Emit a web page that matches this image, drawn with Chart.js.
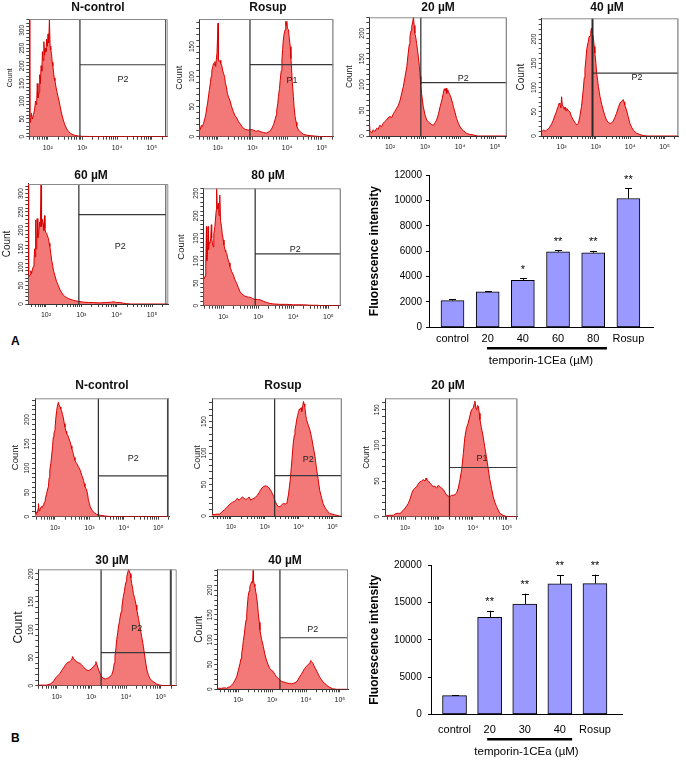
<!DOCTYPE html>
<html><head><meta charset="utf-8">
<script src="https://cdn.jsdelivr.net/npm/chart.js@4.4.1/dist/chart.umd.min.js"></script>
<style>
html,body{margin:0;padding:0;background:#fff}
#wrap{position:relative;width:686px;height:761px;overflow:hidden;background:#fff}
#wrap canvas{position:absolute}
.pl{position:absolute;font:bold 12px "Liberation Sans",Arial,sans-serif;color:#000}
</style></head><body>
<div id="wrap">
<div class="pl" style="left:11px;top:334px">A</div>
<div class="pl" style="left:11px;top:731px">B</div>
</div>
<script>
// ---------- DATA: histogram readings as [log10(fluorescence), count] ----------
const histA_Ncontrol = [[1.47,332],[1.485,55],[1.50,40],[1.53,66],[1.56,50],[1.59,62],[1.62,75],[1.65,100],[1.68,90],[1.70,150],[1.72,110],[1.75,125],[1.77,175],[1.79,150],[1.81,200],[1.83,185],[1.85,240],[1.87,215],[1.89,268],[1.91,230],[1.93,250],[1.95,240],[1.97,275],[1.99,255],[2.01,290],[2.03,265],[2.05,332],[2.07,255],[2.09,245],[2.11,235],[2.13,210],[2.15,200],[2.17,180],[2.19,165],[2.21,158],[2.24,140],[2.27,125],[2.30,112],[2.33,100],[2.36,85],[2.39,70],[2.42,58],[2.45,47],[2.48,38],[2.51,30],[2.55,22],[2.60,15],[2.65,10],[2.70,7],[2.78,4],[2.88,2],[3.0,1],[3.3,0.5],[5.46,0]];
const histA_Rosup = [[1.47,20],[1.50,12],[1.53,19],[1.56,17],[1.59,22],[1.63,30],[1.66,38],[1.69,50],[1.71,56],[1.74,70],[1.76,78],[1.79,90],[1.81,100],[1.83,110],[1.86,117],[1.88,122],[1.90,120],[1.92,125],[1.94,117],[1.96,128],[1.98,140],[2.01,189],[2.02,128],[2.04,125],[2.07,127],[2.09,122],[2.12,118],[2.14,111],[2.17,105],[2.20,100],[2.22,90],[2.25,83],[2.28,72],[2.31,66],[2.35,61],[2.40,50],[2.45,42],[2.50,35],[2.55,31],[2.60,25],[2.64,22],[2.70,17],[2.74,14],[2.80,12],[2.88,11],[2.95,12],[3.03,11],[3.10,9],[3.17,10],[3.25,8],[3.32,7],[3.40,6],[3.46,8],[3.52,10],[3.56,14],[3.61,20],[3.65,28],[3.68,35],[3.70,44],[3.73,55],[3.75,67],[3.78,80],[3.80,94],[3.83,110],[3.85,128],[3.87,145],[3.89,161],[3.91,170],[3.94,178],[3.96,192],[3.98,185],[3.99,192],[4.01,180],[4.04,178],[4.06,165],[4.09,150],[4.11,130],[4.13,111],[4.15,90],[4.18,67],[4.20,50],[4.23,33],[4.26,24],[4.28,17],[4.33,11],[4.38,8],[4.47,4],[4.6,2],[4.8,1],[5.0,0],[5.33,0]];
const histA_20 = [[1.41,31],[1.43,10],[1.48,6],[1.52,12],[1.57,9],[1.62,15],[1.66,13],[1.71,21],[1.76,18],[1.81,25],[1.85,28],[1.90,31],[1.94,35],[2.0,38],[2.05,36],[2.10,44],[2.14,48],[2.19,54],[2.24,60],[2.29,70],[2.33,82],[2.38,96],[2.43,115],[2.48,135],[2.52,161],[2.55,178],[2.57,193],[2.60,205],[2.62,213],[2.65,222],[2.67,232],[2.69,215],[2.71,200],[2.74,190],[2.76,180],[2.79,165],[2.81,154],[2.84,135],[2.86,116],[2.88,100],[2.90,83],[2.93,68],[2.95,57],[3.0,41],[3.05,31],[3.10,27],[3.14,25],[3.19,22],[3.24,21],[3.28,25],[3.33,31],[3.38,42],[3.43,57],[3.48,70],[3.52,83],[3.55,92],[3.57,88],[3.60,93],[3.62,83],[3.65,90],[3.67,86],[3.71,80],[3.74,75],[3.76,70],[3.79,63],[3.81,57],[3.86,45],[3.90,34],[3.95,25],[4.0,18],[4.05,13],[4.10,10],[4.19,5],[4.28,3],[4.38,2],[4.5,0],[5.33,0]];
const histA_40 = [[1.42,9],[1.47,12],[1.52,10],[1.56,12],[1.61,14],[1.66,19],[1.71,25],[1.76,33],[1.80,42],[1.85,50],[1.88,58],[1.90,61],[1.93,68],[1.95,66],[1.98,58],[2.0,81],[2.02,64],[2.05,61],[2.08,55],[2.10,60],[2.13,52],[2.15,57],[2.20,52],[2.24,50],[2.29,40],[2.34,33],[2.39,28],[2.44,23],[2.49,26],[2.53,40],[2.58,61],[2.63,95],[2.66,120],[2.68,137],[2.71,160],[2.73,178],[2.76,190],[2.78,195],[2.80,205],[2.83,206],[2.85,215],[2.87,223],[2.89,212],[2.92,206],[2.95,185],[2.97,171],[3.0,150],[3.02,130],[3.05,115],[3.07,102],[3.10,90],[3.12,81],[3.17,65],[3.21,54],[3.26,42],[3.31,33],[3.36,28],[3.41,26],[3.45,27],[3.50,30],[3.55,38],[3.60,47],[3.65,58],[3.70,68],[3.75,72],[3.80,75],[3.82,70],[3.84,64],[3.89,54],[3.94,40],[3.99,26],[4.04,18],[4.09,12],[4.18,6],[4.28,3],[4.38,1],[4.5,0],[5.40,0]];
const histA_60 = [[1.50,326],[1.51,80],[1.53,75],[1.55,79],[1.57,90],[1.59,83],[1.62,95],[1.64,101],[1.66,115],[1.68,150],[1.69,128],[1.71,228],[1.72,150],[1.74,165],[1.75,232],[1.77,180],[1.78,192],[1.80,200],[1.82,223],[1.84,210],[1.86,323],[1.87,215],[1.88,210],[1.90,230],[1.92,219],[1.94,200],[1.96,240],[1.97,205],[1.99,195],[2.02,192],[2.04,185],[2.07,178],[2.09,165],[2.11,156],[2.14,135],[2.16,119],[2.19,105],[2.21,92],[2.25,78],[2.30,61],[2.35,50],[2.40,38],[2.45,30],[2.49,24],[2.54,20],[2.58,18],[2.63,15],[2.68,13],[2.75,11],[2.82,9],[2.93,7],[3.06,5],[3.20,4],[3.34,4],[3.50,3],[3.72,4],[3.85,5],[3.91,6],[4.0,4],[4.09,4],[4.2,2],[4.28,1],[4.4,0],[5.46,0]];
const histA_80 = [[1.43,72],[1.45,60],[1.48,65],[1.50,90],[1.52,176],[1.53,100],[1.55,120],[1.57,176],[1.58,125],[1.60,140],[1.62,139],[1.64,150],[1.66,180],[1.67,150],[1.69,140],[1.71,131],[1.73,160],[1.76,176],[1.78,195],[1.80,213],[1.81,261],[1.83,215],[1.86,228],[1.88,200],[1.90,246],[1.92,190],[1.95,176],[1.97,160],[2.0,146],[2.02,135],[2.05,124],[2.07,120],[2.10,116],[2.12,108],[2.14,102],[2.17,95],[2.19,87],[2.24,76],[2.29,68],[2.33,58],[2.38,50],[2.43,40],[2.48,31],[2.52,27],[2.57,24],[2.62,21],[2.67,20],[2.72,19],[2.76,19],[2.83,16],[2.90,14],[2.97,14],[3.05,13],[3.14,10],[3.24,7],[3.33,5],[3.43,4],[3.6,3],[3.81,3],[4.0,2],[4.29,2],[4.5,1],[4.67,1],[4.8,0],[5.35,0]];
const histB_Ncontrol = [[1.42,7],[1.45,5],[1.47,10],[1.49,8],[1.51,17],[1.52,27],[1.54,12],[1.56,14],[1.58,18],[1.61,21],[1.63,19],[1.66,24],[1.68,28],[1.71,31],[1.73,40],[1.76,48],[1.78,55],[1.81,62],[1.83,80],[1.85,96],[1.88,110],[1.90,123],[1.93,145],[1.95,164],[1.97,172],[2.0,178],[2.02,200],[2.05,219],[2.07,228],[2.10,236],[2.12,230],[2.15,226],[2.17,222],[2.19,219],[2.22,210],[2.24,205],[2.27,192],[2.29,185],[2.32,176],[2.34,171],[2.37,168],[2.39,164],[2.42,158],[2.44,154],[2.47,146],[2.49,140],[2.51,135],[2.53,130],[2.56,122],[2.58,116],[2.61,112],[2.63,110],[2.68,103],[2.73,96],[2.78,85],[2.83,75],[2.85,68],[2.87,62],[2.90,58],[2.92,55],[2.95,45],[2.97,34],[3.0,27],[3.02,21],[3.07,14],[3.11,10],[3.16,7],[3.21,5],[3.31,3],[3.50,1],[3.7,0],[5.31,0]];
const histB_Rosup = [[1.44,3],[1.5,2],[1.58,3],[1.66,3],[1.71,5],[1.76,8],[1.81,10],[1.85,12],[1.90,15],[1.95,18],[2.0,20],[2.05,22],[2.10,23],[2.15,26],[2.19,28],[2.24,25],[2.29,28],[2.34,30],[2.39,28],[2.44,26],[2.49,28],[2.54,30],[2.58,25],[2.63,27],[2.68,28],[2.73,30],[2.78,33],[2.83,37],[2.87,41],[2.92,45],[2.97,47],[3.02,48],[3.07,47],[3.12,45],[3.17,41],[3.22,36],[3.26,31],[3.29,26],[3.31,23],[3.36,17],[3.41,15],[3.46,15],[3.50,18],[3.55,20],[3.60,19],[3.65,20],[3.70,35],[3.75,57],[3.80,89],[3.84,116],[3.87,128],[3.89,137],[3.92,145],[3.94,153],[3.97,160],[3.99,164],[4.02,170],[4.04,169],[4.07,172],[4.09,166],[4.12,175],[4.14,182],[4.16,178],[4.18,174],[4.21,160],[4.23,153],[4.28,145],[4.33,137],[4.38,125],[4.43,110],[4.48,95],[4.52,78],[4.57,60],[4.62,41],[4.67,30],[4.72,20],[4.77,14],[4.82,10],[4.91,4],[5.06,2],[5.2,0],[5.27,0]];
const histB_20 = [[1.41,1],[1.55,2],[1.66,2],[1.71,4],[1.80,5],[1.85,4],[1.90,7],[1.95,9],[2.0,12],[2.05,15],[2.10,19],[2.15,25],[2.20,33],[2.25,38],[2.29,40],[2.34,42],[2.39,46],[2.44,49],[2.49,50],[2.54,52],[2.59,50],[2.62,54],[2.64,52],[2.69,50],[2.74,47],[2.78,45],[2.83,42],[2.88,43],[2.93,40],[2.98,44],[3.03,42],[3.08,40],[3.13,38],[3.18,34],[3.23,30],[3.27,29],[3.32,28],[3.37,30],[3.42,30],[3.47,31],[3.52,33],[3.57,40],[3.62,52],[3.67,66],[3.72,89],[3.76,110],[3.81,124],[3.86,131],[3.91,141],[3.96,150],[4.01,152],[4.04,158],[4.06,162],[4.09,152],[4.11,150],[4.14,156],[4.16,155],[4.19,145],[4.21,136],[4.25,125],[4.30,113],[4.35,98],[4.40,84],[4.45,68],[4.50,52],[4.55,40],[4.60,28],[4.65,20],[4.70,14],[4.79,5],[4.89,2],[5.0,0],[5.31,0]];
const histB_30 = [[1.47,1],[1.6,1],[1.71,1],[1.81,3],[1.86,5],[1.90,7],[1.95,12],[2.0,16],[2.05,19],[2.10,22],[2.14,27],[2.19,31],[2.24,36],[2.29,40],[2.33,42],[2.38,43],[2.43,46],[2.46,52],[2.48,49],[2.53,45],[2.58,43],[2.62,41],[2.67,40],[2.72,37],[2.77,34],[2.82,30],[2.87,28],[2.91,27],[2.96,28],[3.01,31],[3.06,34],[3.11,38],[3.13,43],[3.15,40],[3.20,30],[3.25,22],[3.30,16],[3.35,13],[3.40,12],[3.44,13],[3.49,14],[3.54,16],[3.59,20],[3.63,28],[3.66,40],[3.68,52],[3.71,68],[3.73,82],[3.76,95],[3.78,105],[3.81,115],[3.83,123],[3.86,132],[3.88,141],[3.90,150],[3.92,159],[3.95,168],[3.97,177],[4.0,186],[4.02,195],[4.05,202],[4.07,208],[4.10,204],[4.12,200],[4.14,192],[4.16,183],[4.19,174],[4.21,165],[4.24,158],[4.26,153],[4.29,144],[4.31,135],[4.36,120],[4.40,105],[4.45,88],[4.50,70],[4.55,48],[4.60,28],[4.65,18],[4.69,13],[4.74,9],[4.79,7],[4.88,3],[4.98,1],[5.1,0],[5.46,0]];
const histB_40 = [[1.38,2],[1.5,2],[1.6,3],[1.66,2],[1.70,4],[1.75,5],[1.80,8],[1.85,12],[1.90,18],[1.95,25],[2.0,38],[2.05,52],[2.08,62],[2.10,72],[2.13,85],[2.15,99],[2.18,112],[2.20,126],[2.23,140],[2.25,153],[2.27,170],[2.29,187],[2.32,198],[2.34,207],[2.37,212],[2.39,217],[2.42,215],[2.44,240],[2.45,220],[2.47,212],[2.49,207],[2.52,195],[2.54,187],[2.57,170],[2.59,153],[2.62,135],[2.64,119],[2.69,100],[2.74,86],[2.78,72],[2.83,59],[2.88,50],[2.93,42],[2.98,38],[3.03,36],[3.08,30],[3.13,25],[3.18,22],[3.23,19],[3.28,16],[3.32,15],[3.37,14],[3.42,13],[3.47,12],[3.52,12],[3.57,11],[3.62,12],[3.67,13],[3.72,15],[3.76,19],[3.81,25],[3.86,30],[3.91,36],[3.96,42],[4.01,46],[4.06,50],[4.11,52],[4.14,58],[4.16,56],[4.19,54],[4.21,52],[4.25,45],[4.30,39],[4.35,32],[4.40,25],[4.45,20],[4.50,15],[4.55,12],[4.60,9],[4.65,6],[4.70,4],[4.79,1],[4.9,0],[5.24,0]];

// ---------- DATA: bar charts ----------
const barCatsA = ['control','20','40','60','80','Rosup'];
const barValsA = [2100, 2800, 3700, 5950, 5870, 10150];
const barErrA  = [100, 60, 150, 120, 150, 800];
const barSigA  = ['', '', '*', '**', '**', '**'];
const barTicksA = [0, 2000, 4000, 6000, 8000, 10000, 12000];

const barCatsB = ['control','20','30','40','Rosup'];
const barValsB = [2500, 13000, 14800, 17500, 17550];
const barErrB  = [100, 900, 1400, 1200, 1200];
const barSigB  = ['', '**', '**', '**', '**'];
const barTicksB = [0, 5000, 10000, 15000, 20000];

const axisTitleX = 'temporin-1CEa (µM)';
const axisTitleY = 'Fluorescence intensity';

// ---------- LAYOUT ----------
const FONT = '"Liberation Sans", Arial, Helvetica, sans-serif';
Chart.defaults.font.family = FONT;
const wrap = document.getElementById('wrap');
const SUP = {2:'\u00B2',3:'\u00B3',4:'\u2074',5:'\u2075'};
const LOG_TICKS = [];
for (let e = 1; e <= 5; e++) for (let k = 1; k <= 9; k++) LOG_TICKS.push(k * Math.pow(10, e));

const HIST_LAYOUT = [
 {title:'N-control', data:histA_Ncontrol, box:[29.3,19,167.7,136.7], xr:[1.47,5.46], ymax:332, gate:[2.93,203,5.40], lab:[4.17,160,'P2'], tc:98, td:12, cs:7, cd:19.3},
 {title:'Rosup', data:histA_Rosup, box:[199.3,19,333.3,136.7], xr:[1.47,5.33], ymax:196, gate:[2.93,120,5.33], lab:[4.14,94,'P1'], tc:268, td:12, cs:9, cd:20},
 {title:'20 µM', data:histA_20, box:[369.3,17.3,506.7,136], xr:[1.41,5.33], ymax:231, gate:[2.88,104,5.33], lab:[4.09,111,'P2'], tc:438, td:10.3, cs:8.5, cd:19.3},
 {title:'40 µM', data:histA_40, box:[541.7,18.3,678.3,136], xr:[1.42,5.40], ymax:243, gate:[2.90,130,5.40], lab:[4.20,120,'P2'], tc:607, td:11.3, cs:10, cd:20, gw:2},
 {title:'60 µM', data:histA_60, box:[28.3,184,168.3,304], xr:[1.50,5.46], ymax:326, gate:[2.93,243,5.39], lab:[4.10,155,'P2'], tc:91, td:9, cs:10, cd:21},
 {title:'80 µM', data:histA_80, box:[203.3,188.3,340.7,305.7], xr:[1.43,5.35], ymax:261, gate:[2.91,115,5.35], lab:[4.05,124,'P2'], tc:268, td:13.3, cs:9.5, cd:21.6},
 {title:'N-control', data:histB_Ncontrol, box:[35,398.3,169,516.7], xr:[1.42,5.31], ymax:244, gate:[3.26,84,5.28], lab:[4.27,119,'P2'], tc:102, td:13.3, cs:9.5, cd:20, rw:2},
 {title:'Rosup', data:histB_Rosup, box:[212,398.3,341.7,516], xr:[1.44,5.27], ymax:187, gate:[3.29,64,5.27], lab:[4.28,89,'P2'], tc:283, td:13.3, cs:9, cd:14},
 {title:'20 µM', data:histB_20, box:[385,398.3,517.3,516.7], xr:[1.41,5.31], ymax:166, gate:[3.31,69,5.31], lab:[4.27,81,'P1'], tc:448, td:13.3, cs:8.5, cd:18.3},
 {title:'30 µM', data:histB_30, box:[38.3,569.3,176.7,685.7], xr:[1.47,5.46], ymax:208, gate:[3.28,59,5.29], lab:[4.31,103,'P2'], tc:112, td:9.3, cs:12, cd:20, rw:2},
 {title:'40 µM', data:histB_40, box:[217.3,569.3,348,689.3], xr:[1.38,5.24], ymax:242, gate:[3.23,104,5.24], lab:[4.20,120,'P2'], tc:285, td:9.3, cs:10, cd:18.3}
];

const histDecor = {
  id: 'gateLabel',
  afterDatasetsDraw(chart, args, o) {
    const {ctx, chartArea: a, scales: {x, y}} = chart;
    ctx.save();
    ctx.strokeStyle = '#8a8a8a'; ctx.lineWidth = 1;
    ctx.beginPath();
    ctx.moveTo(a.left, a.top + 0.5); ctx.lineTo(a.right - 0.5, a.top + 0.5); ctx.lineTo(a.right - 0.5, a.bottom);
    ctx.stroke();
    ctx.fillStyle = '#222'; ctx.font = '9px ' + FONT; ctx.textAlign = 'center'; ctx.textBaseline = 'middle';
    ctx.fillText(o.text, x.getPixelForValue(Math.pow(10, o.x)), y.getPixelForValue(o.y));
    ctx.restore();
  }
};

function makeCanvas(l, t, w, h) {
  const cv = document.createElement('canvas');
  cv.width = w; cv.height = h;
  cv.style.left = l + 'px'; cv.style.top = t + 'px';
  cv.style.width = w + 'px'; cv.style.height = h + 'px';
  wrap.appendChild(cv);
  return cv;
}

function makeHist(p) {
  const [bl, bt, br, bb] = p.box;
  const cl = Math.round(bl - 30), YW = bl - cl;
  const ct = Math.round(bt - p.td - 7.2), TH = bt - ct, pb = TH - 14.4;
  const W = Math.round(2 * (p.tc - cl));
  const RP = W - YW - (br - bl);
  const H = Math.ceil(TH + (bb - bt) + 20);
  const XH = H - TH - (bb - bt);
  const cv = makeCanvas(cl, ct, W, H);
  const [gx, gy, gr] = p.gate;
  const X = v => Math.pow(10, v);
  new Chart(cv, {
    type: 'line',
    data: { datasets: [
      {data: p.data.map(([lx, c]) => ({x: X(lx), y: c})), fill: 'origin', backgroundColor: '#f37878', borderColor: '#d80000', borderWidth: 1, pointRadius: 0, tension: 0, order: 2},
      {data: [{x: X(gx), y: 0}, {x: X(gx), y: p.ymax}], borderColor: '#2a2a2a', borderWidth: p.gw || 1.2, pointRadius: 0, fill: false, order: 1},
      {data: [{x: X(gx), y: gy}, {x: X(gr), y: gy}], borderColor: '#3a3a3a', borderWidth: 1.2, pointRadius: 0, fill: false, order: 1},
      {data: [{x: X(gr), y: 0}, {x: X(gr), y: p.ymax}], borderColor: '#444', borderWidth: p.rw || 1, pointRadius: 0, fill: false, order: 1}
    ]},
    options: {
      responsive: false, animation: false, events: [], devicePixelRatio: 1,
      layout: {padding: 0},
      plugins: {
        legend: {display: false}, tooltip: {enabled: false},
        title: {display: true, text: p.title, font: {size: 12, weight: 'bold'}, color: '#111', padding: {top: 0, bottom: pb}, fullSize: true},
        gateLabel: {x: p.lab[0], y: p.lab[1], text: p.lab[2]}
      },
      scales: {
        x: {
          type: 'logarithmic', min: X(p.xr[0]), max: X(p.xr[1]),
          afterBuildTicks(s) { s.ticks = LOG_TICKS.filter(v => v >= s.min && v <= s.max).map(v => ({value: v})); },
          ticks: {autoSkip: false, maxRotation: 0, minRotation: 0, padding: 4, font: {size: 7}, color: '#222',
            callback(v) { const e = Math.round(Math.log10(v)); return (Math.abs(v - Math.pow(10, e)) < 1e-6 * v && SUP[e]) ? '10' + SUP[e] : ''; }},
          grid: {drawOnChartArea: false, tickLength: 3, color: '#444'},
          border: {color: '#333', width: 1},
          afterFit(s) { s.height = XH; }
        },
        y: {
          min: 0, max: p.ymax,
          ticks: {stepSize: 10, autoSkip: false, includeBounds: false, minRotation: 90, maxRotation: 90, crossAlign: 'center', padding: -1, font: {size: 6.5}, color: '#222',
            callback(v) { return v % 50 === 0 ? String(v) : ''; }},
          grid: {drawOnChartArea: false, tickLength: 3, color: '#444'},
          border: {color: '#333', width: 1},
          title: {display: true, text: 'Count', font: {size: p.cs}, color: '#222', padding: {top: YW - p.cd - p.cs * 0.6, bottom: 0}},
          afterFit(s) { s.width = YW; }
        },
        y2: {position: 'right', grid: {display: false, drawTicks: false}, border: {display: false}, ticks: {display: false}, afterFit(s) { s.width = RP; }}
      }
    },
    plugins: [histDecor]
  });
}
HIST_LAYOUT.forEach(makeHist);

// ---------- bar charts ----------
const errPlugin = {
  id: 'errbars',
  afterDatasetsDraw(chart, args, o) {
    const {ctx, chartArea: a, scales: {x, y}} = chart;
    const meta = chart.getDatasetMeta(0);
    ctx.save();
    ctx.strokeStyle = '#000'; ctx.fillStyle = '#000'; ctx.lineWidth = 1;
    ctx.font = '11px ' + FONT; ctx.textAlign = 'center'; ctx.textBaseline = 'alphabetic';
    meta.data.forEach((bar, i) => {
      const top = y.getPixelForValue(o.vals[i] + o.err[i]);
      const px = Math.round(bar.x) + 0.5;
      ctx.beginPath();
      ctx.moveTo(px, bar.y); ctx.lineTo(px, top);
      ctx.moveTo(px - 3.5, Math.round(top) + 0.5); ctx.lineTo(px + 3.5, Math.round(top) + 0.5);
      ctx.stroke();
      if (o.sig[i]) ctx.fillText(o.sig[i], bar.x, top - 5.5);
    });
    const ly = a.bottom + o.lineOff;
    ctx.lineWidth = 2.5;
    ctx.beginPath(); ctx.moveTo(x.getPixelForValue(o.line[0]), ly); ctx.lineTo(x.getPixelForValue(o.line[1]), ly); ctx.stroke();
    ctx.restore();
  }
};

function makeBars(L, cats, vals, errs, sigs, tickVals) {
  const [l, t, r, b] = L.area;
  const cl = 355, ct = t - 10;
  const YW = l - cl, W = Math.round(r + L.rp - cl);
  const H = Math.round(b + 45 - ct);
  const XH = H - 10 - (b - t);
  const cv = makeCanvas(cl, ct, W, H);
  new Chart(cv, {
    type: 'bar',
    data: {datasets: [{data: vals.map((v, i) => ({x: i, y: v})), backgroundColor: '#9999ff', borderColor: '#000', borderWidth: 1, borderSkipped: false, barThickness: L.bw}]},
    options: {
      responsive: false, animation: false, events: [], devicePixelRatio: 1,
      layout: {padding: {top: 10, right: W - YW - (r - l), left: 0, bottom: 0}},
      plugins: {legend: {display: false}, tooltip: {enabled: false},
        errbars: {vals: vals, err: errs, sig: sigs, line: L.line, lineOff: L.lineOff}},
      scales: {
        x: {type: 'linear', min: L.xr[0], max: L.xr[1], offset: false,
          grid: {display: false, drawTicks: false}, border: {color: '#000', width: 1},
          ticks: {stepSize: 1, autoSkip: false, includeBounds: false, maxRotation: 0, font: {size: 11}, color: '#000', padding: L.tpad,
            callback(v) { return cats[v] !== undefined ? cats[v] : ''; }},
          title: {display: true, text: axisTitleX, font: {size: 11.5}, color: '#000', padding: {top: 0, bottom: L.ttpad}},
          afterFit(s) { s.height = XH; }
        },
        y: {min: 0, max: tickVals[tickVals.length - 1],
          afterBuildTicks(s) { s.ticks = tickVals.map(v => ({value: v})); },
          ticks: {font: {size: 10}, color: '#000', padding: L.ypad, callback(v) { return String(v); }},
          grid: {drawOnChartArea: false, tickLength: 3, color: '#000'},
          border: {color: '#000', width: 1},
          title: {display: true, text: axisTitleY, font: {size: 12, weight: 'bold'}, color: '#000', padding: {top: 12.8, bottom: 0}},
          afterFit(s) { s.width = YW; }
        }
      }
    },
    plugins: [errPlugin]
  });
}

makeBars({area: [429, 175, 653, 327.3], rp: 10, xr: [-0.668, 5.70], bw: 23, line: [0.98, 4.39], lineOff: 21, tpad: 5.4, ttpad: 4.1, ypad: 4},
  barCatsA, barValsA, barErrA, barSigA, barTicksA);
makeBars({area: [431, 563, 622, 714.3], rp: 10, xr: [-0.67, 4.77], bw: 24, line: [0.93, 3.35], lineOff: 25, tpad: 9.4, ttpad: 0.1, ypad: 6.3},
  barCatsB, barValsB, barErrB, barSigB, barTicksB);
</script>
</body></html>
